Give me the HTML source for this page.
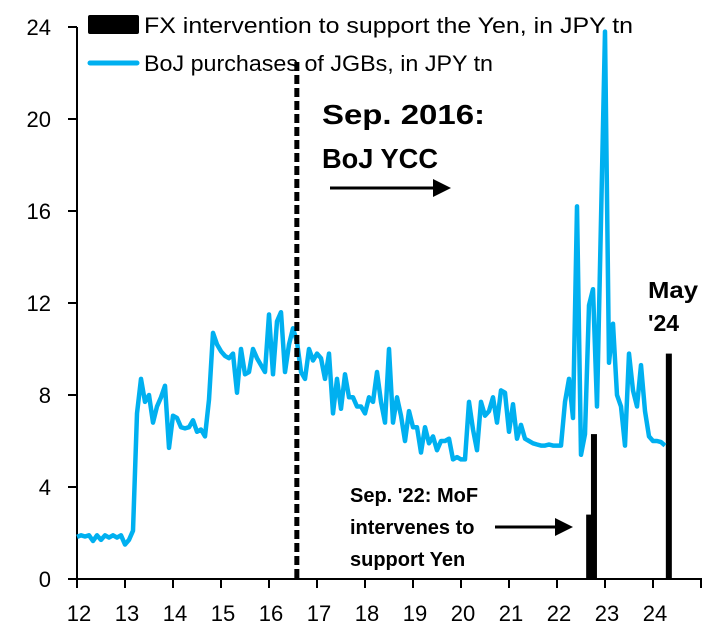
<!DOCTYPE html>
<html><head><meta charset="utf-8"><style>
body{margin:0;background:#fff;}
svg{display:block;font-family:"Liberation Sans",Arial,sans-serif;}
</style></head><body>
<svg id="chart" width="717" height="630">
<g id="axes"></g><g id="bars"></g><g id="line"></g><g id="annot"></g>
</svg>
<script>
const startYear = 2012;
const bojPurchases = [1.83,1.9,1.85,1.9,1.65,1.9,1.7,1.9,1.8,1.9,1.8,1.9,
1.5,1.7,2.1,7.2,8.7,7.7,8.0,6.8,7.5,7.9,8.4,5.7,
7.1,7.0,6.6,6.55,6.6,6.9,6.4,6.5,6.2,7.8,10.7,10.2,
9.9,9.7,9.6,9.8,8.1,10.0,8.9,9.0,10.0,9.6,9.3,9.0,
11.5,8.9,11.2,11.6,9.0,10.2,10.9,10.3,9.0,8.7,10.0,9.5,
9.8,9.6,8.7,9.8,7.2,8.7,7.4,8.9,7.9,7.9,7.5,7.5,
7.2,7.9,7.7,9.0,7.7,6.8,10.0,6.8,7.9,7.1,6.0,7.3,
6.6,6.6,5.5,6.6,5.9,6.2,5.6,6.0,6.0,6.1,5.2,5.3,
5.2,5.2,7.7,6.5,5.6,7.7,7.1,7.3,7.9,6.8,8.2,8.1,
6.4,7.6,6.1,6.7,6.1,6.0,5.9,5.85,5.8,5.8,5.85,5.8,
5.8,5.8,7.7,8.7,7.0,16.2,5.4,6.3,11.9,12.6,7.5,15.6,
23.8,9.4,11.1,8.0,7.5,5.8,9.8,8.2,7.5,9.3,7.3,6.2,
6.0,6.0,5.95,5.8];
const fxDates = [2022.67, 2022.77, 2024.33];
const fxValues = [2.8, 6.3, 9.8];
const yTicks = [0,4,8,12,16,20,24];
const xTickLabels = ["12","13","14","15","16","17","18","19","20","21","22","23","24"];
const yccDate = 2016.58;

const NS="http://www.w3.org/2000/svg";
const X0=77, PXY=48, Y0=579, PXV=23;
const xs=d=>X0+(d-2012)*PXY;
const ys=v=>Y0-v*PXV;
function mk(tag,attrs,parent,text){const e=document.createElementNS(NS,tag);for(const k in attrs)e.setAttribute(k,attrs[k]);if(text!==undefined)e.textContent=text;parent.appendChild(e);return e;}

const axes=document.getElementById('axes');
let e;
e=mk('line',{x1:X0,y1:ys(24),x2:X0,y2:Y0+1,stroke:'#000','stroke-width':2},axes);


e=mk('line',{x1:X0,y1:Y0,x2:xs(2025)+1,y2:Y0,stroke:'#000','stroke-width':2},axes);


yTicks.forEach(t=>{
  mk('line',{x1:X0-9,y1:ys(t),x2:X0,y2:ys(t),stroke:'#000','stroke-width':2},axes);
  e=mk('text',{x:51,y:ys(t)+8,'text-anchor':'end','font-size':22,fill:'#000'},axes,String(t));
  
  
});
for(let i=0;i<=13;i++){
  mk('line',{x1:xs(2012+i),y1:Y0,x2:xs(2012+i),y2:Y0+9,stroke:'#000','stroke-width':2},axes);
}
xTickLabels.forEach((l,i)=>{
  e=mk('text',{x:xs(2012+i)+2,y:621,'text-anchor':'middle','font-size':22,fill:'#000'},axes,l);
  
  
});

const bars=document.getElementById('bars');
fxDates.forEach((d,i)=>{
  e=mk('rect',{x:xs(d)-3,y:ys(fxValues[i]),width:6,height:fxValues[i]*PXV,fill:'#000'},bars);
  
  
});

const line=document.getElementById('line');
const pts=bojPurchases.map((v,i)=>xs(startYear+i/12).toFixed(1)+','+ys(v).toFixed(1)).join(' ');
e=mk('polyline',{points:pts,fill:'none',stroke:'#00B0F0','stroke-width':4.5,'stroke-linejoin':'round'},line);



const an=document.getElementById('annot');
e=mk('line',{x1:xs(yccDate),y1:62,x2:xs(yccDate),y2:Y0,stroke:'#000','stroke-width':5,'stroke-dasharray':'9,4'},an);


</script>
<svg width="717" height="630" style="position:absolute;left:0;top:0">
  <defs><marker id="ah" markerWidth="6" markerHeight="6" refX="5" refY="3" orient="auto" markerUnits="strokeWidth"><path d="M0,0 L6,3 L0,6 Z" fill="#000"/></marker></defs>
  <g>
    <rect x="88" y="15" width="51" height="19" rx="2" fill="#000"/>
    <text x="144" y="33" font-size="22" textLength="489" lengthAdjust="spacingAndGlyphs" fill="#000" font-family="Liberation Sans, sans-serif">FX intervention to support the Yen, in JPY tn</text>
    <line x1="90" y1="63" x2="137" y2="63" stroke="#00B0F0" stroke-width="5" stroke-linecap="round"/>
    <text x="144" y="71" font-size="22" textLength="349" lengthAdjust="spacingAndGlyphs" fill="#000" font-family="Liberation Sans, sans-serif">BoJ purchases of JGBs, in JPY tn</text>
  </g>
  <g font-family="Liberation Sans, sans-serif" font-weight="bold" fill="#000">
    <text x="322" y="124" font-size="28" textLength="163" lengthAdjust="spacingAndGlyphs">Sep. 2016:</text>
    <text x="322" y="168" font-size="28" textLength="116" lengthAdjust="spacingAndGlyphs">BoJ YCC</text>
    <line x1="330" y1="188" x2="448" y2="188" stroke="#000" stroke-width="3" marker-end="url(#ah)"/>
    <text x="648" y="298" font-size="23" textLength="50" lengthAdjust="spacingAndGlyphs">May</text>
    <text x="648" y="331" font-size="23">'24</text>
    <text x="350" y="502" font-size="20">Sep. '22: MoF</text>
    <text x="350" y="534" font-size="20">intervenes to</text>
    <text x="350" y="566" font-size="20">support Yen</text>
    <line x1="495" y1="527" x2="570" y2="527" stroke="#000" stroke-width="3" marker-end="url(#ah)"/>
  </g>
</svg>
</body></html>
